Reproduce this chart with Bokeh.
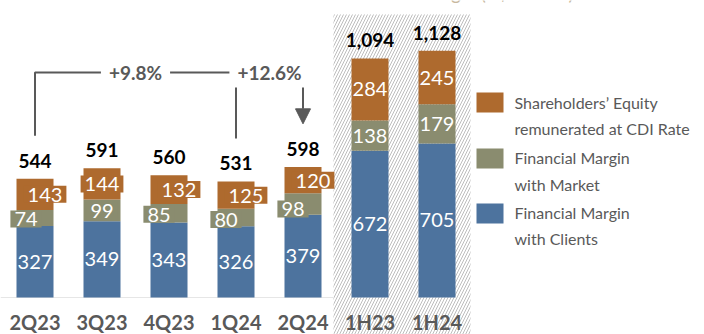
from bokeh.plotting import figure
from bokeh.models import Range1d, ColumnDataSource, Arrow, NormalHead
from bokeh.core.properties import value
from bokeh.embed import file_html
from bokeh.resources import INLINE

# ---------------- data ----------------
categories = ["2Q23", "3Q23", "4Q23", "1Q24", "2Q24", "1H23", "1H24"]
clients = [327, 349, 343, 326, 379, 672, 705]
market = [74, 99, 85, 80, 98, 138, 179]
equity = [143, 144, 132, 125, 120, 284, 245]
totals = [544, 591, 560, 531, 598, 1094, 1128]
total_labels = ["544", "591", "560", "531", "598", "1,094", "1,128"]
growth_labels = ["+9.8%", "+12.6%"]
series_names = [
    "Shareholders’ Equity\nremunerated at CDI Rate",
    "Financial Margin\nwith Market",
    "Financial Margin\nwith Clients",
]
title_text = "Gross Financial Margin (R$ million)"

# ---------------- style ----------------
C_BLUE = "#4d739e"
C_GREEN = "#8a8c6f"
C_ORANGE = "#ae6a2e"
C_GRAY = "#595959"
FONT = value("Lato")

W, H = 704, 334
PX0, STEP = 34.5, 67.0          # pixel centre of first category, spacing
BASE, SCALE = 297.0, 0.2185      # pixel row of zero, pixels per unit

def X(px):
    return (px - PX0) / STEP

def Y(py):
    return (BASE - py) / SCALE

n = len(categories)
xs = list(range(n))
n_q = 5  # quarterly bars (with boxed labels)

p = figure(width=W, height=H, output_backend="svg", toolbar_location=None,
           x_range=Range1d(X(0), X(W)), y_range=Range1d(Y(H), Y(0)),
           x_axis_location=None, y_axis_location=None, min_border=0)
p.outline_line_color = None
p.grid.visible = False
p.background_fill_color = "white"
p.border_fill_color = "white"

# hatched half-year panel
p.quad(left=X(333), right=X(470), bottom=Y(H + 20), top=Y(14),
       fill_color=None, line_color=None, hatch_pattern="/",
       hatch_color="#bdbdbd", hatch_scale=6, hatch_weight=1)

# faint baseline
p.segment(x0=[X(0)], y0=[0], x1=[X(333)], y1=[0], line_color="#e6e6e6", line_width=1)

src = ColumnDataSource(dict(x=xs, clients=clients, market=market, equity=equity))
p.vbar_stack(["clients", "market", "equity"], x="x", width=37 / STEP,
             fill_color=[C_BLUE, C_GREEN, C_ORANGE], line_color=None, source=src)

# segment midpoints
mid_c = [c / 2 for c in clients]
mid_m = [c + m / 2 for c, m in zip(clients, market)]
mid_e = [c + m + e / 2 for c, m, e in zip(clients, market, equity)]

shift_e = [10, 0, 10, 10, 10, 0, 0]
shift_m = [-9, 0, -10, -10, -10, 0, 0]
dy_m = [1, 0, 1, 2, 5, 0, 0]

seg_style = dict(text_color="white", text_font=FONT, text_font_size="20px",
                 text_align="center", text_baseline="middle")

# blue labels
p.text(x=xs, y=mid_c, text=[str(v) for v in clients], **seg_style)
# half-year labels (no boxes)
p.text(x=xs[n_q:], y=mid_m[n_q:], text=[str(v) for v in market[n_q:]], **seg_style)
p.text(x=xs[n_q:], y=mid_e[n_q:], text=[str(v) for v in equity[n_q:]], **seg_style)
# quarterly boxed labels
pad = dict(left=4, right=4, top=2, bottom=1)
p.text(x=xs[:n_q], y=mid_e[:n_q], text=[str(v) for v in equity[:n_q]],
       x_offset=shift_e[:n_q], background_fill_color=C_ORANGE, padding=pad, **seg_style)
p.text(x=xs[:n_q], y=mid_m[:n_q], text=[str(v) for v in market[:n_q]],
       x_offset=shift_m[:n_q], y_offset=dy_m[:n_q],
       background_fill_color=C_GREEN, padding=pad, **seg_style)

# totals
p.text(x=xs, y=totals, text=total_labels, y_offset=-18, text_color="black",
       text_font=FONT, text_font_size="19px", text_font_style="bold",
       text_align="center", text_baseline="middle")

# category labels
p.text(x=xs, y=[Y(321)] * n, text=categories, text_color=C_GRAY, text_font=FONT,
       text_font_size="20px", text_font_style="bold", text_align="center",
       text_baseline="middle")

# growth brackets
gap = 43 / SCALE
level = Y(72)
top_drop = Y(87)
p.line(x=[0, 0, 3.5], y=[totals[0] + gap, level, level], line_color=C_GRAY, line_width=2)
p.segment(x0=[3], y0=[totals[3] + gap], x1=[3], y1=[top_drop], line_color=C_GRAY, line_width=2)
p.add_layout(Arrow(x_start=4, y_start=top_drop, x_end=4, y_end=totals[4] + gap,
                   line_color=C_GRAY, line_width=2,
                   end=NormalHead(size=15, fill_color=C_GRAY, line_color=C_GRAY)))
p.text(x=[1.5, 3.5], y=[level, level], text=growth_labels, text_color=C_GRAY,
       text_font=FONT, text_font_size="19px", text_font_style="bold",
       text_align="center", text_baseline="middle", background_fill_color="white",
       padding=dict(left=8, right=8, top=2, bottom=2))

# legend (manual)
leg_y = [Y(102), Y(158), Y(213)]
leg_text_y = [Y(115), Y(170.5), Y(225)]
p.rect(x=[X(489.5)] * 3, y=leg_y, width=27, height=20, width_units="screen",
       height_units="screen", fill_color=[C_ORANGE, C_GREEN, C_BLUE], line_color=None)
p.text(x=[X(514)] * 3, y=leg_text_y, text=series_names, text_color=C_GRAY,
       text_font=FONT, text_font_size="16px", text_align="left",
       text_baseline="middle", text_line_height=1.37)

# heading, cut by the top edge as in the reference (only its lowest strokes show)
p.text(x=[X(573)], y=[Y(-8)], text=[title_text], text_color="#c8b89e",
       text_font=FONT, text_font_size="19px", text_align="right",
       text_baseline="alphabetic")

open("out.html", "w").write(file_html(p, INLINE))
